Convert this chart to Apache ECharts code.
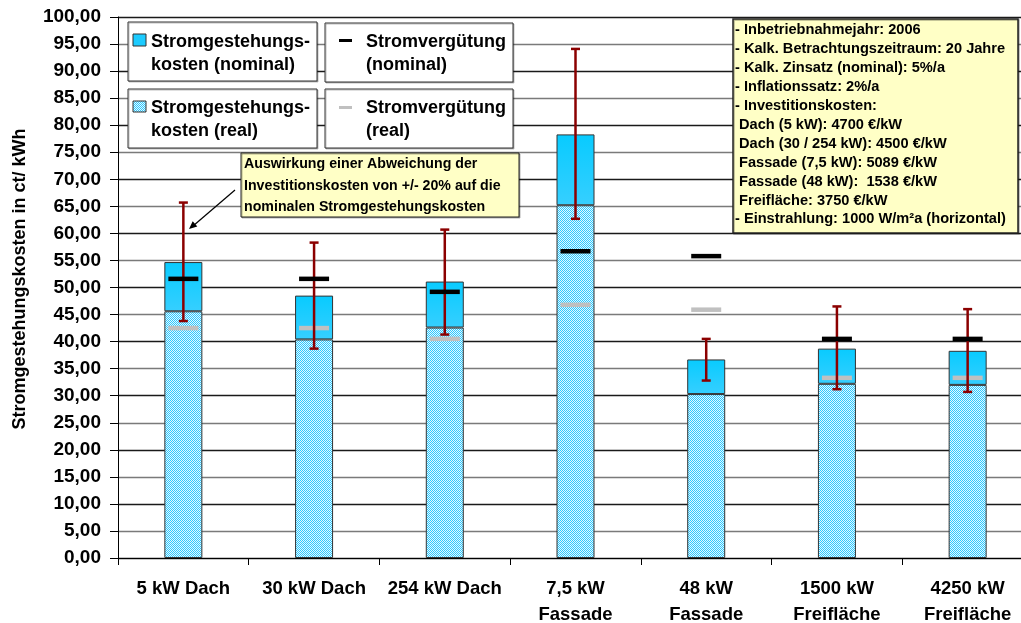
<!DOCTYPE html>
<html><head><meta charset="utf-8">
<script src="https://cdn.jsdelivr.net/npm/echarts@6/dist/echarts.min.js"></script>
<style>html,body{margin:0;padding:0;background:#fff}#c{width:1021px;height:623px}</style>
</head><body><div id="c"></div>
<script>
const categories = ['5 kW Dach', '30 kW Dach', '254 kW Dach', '7,5 kW\nFassade', '48 kW\nFassade', '1500 kW\nFreifläche', '4250 kW\nFreifläche'];
const nominalCost = [54.7, 48.5, 51.1, 78.3, 36.7, 38.7, 38.3];
const realCost = [45.6, 40.4, 42.6, 65.2, 30.3, 32.2, 32.0];
const tariffNominal = [51.6, 51.6, 49.2, 56.7, 55.8, 40.5, 40.5];
const tariffReal = [42.5, 42.5, 40.5, 46.8, 45.9, 33.3, 33.3];
const errHigh = [65.7, 58.3, 60.7, 94.1, 40.5, 46.5, 46.0];
const errLow = [43.8, 38.7, 41.3, 62.7, 32.8, 31.2, 30.7];
const yMin = 0, yMax = 100, yStep = 5;
const infoLines = [
  '- Inbetriebnahmejahr: 2006',
  '- Kalk. Betrachtungszeitraum: 20 Jahre',
  '- Kalk. Zinsatz (nominal): 5%/a',
  '- Inflationssatz: 2%/a',
  '- Investitionskosten:',
  ' Dach (5 kW): 4700 €/kW',
  ' Dach (30 / 254 kW): 4500 €/kW',
  ' Fassade (7,5 kW): 5089 €/kW',
  ' Fassade (48 kW):  1538 €/kW',
  ' Freifläche: 3750 €/kW',
  '- Einstrahlung: 1000 W/m²a (horizontal)'
];
const noteLines = ['Auswirkung einer Abweichung der', 'Investitionskosten von +/- 20% auf die', 'nominalen Stromgestehungskosten'];

const FF = '"Liberation Sans", Arial, sans-serif';

// dotted pattern for "real"
const pc = document.createElement('canvas');
pc.width = 2; pc.height = 2;
const pctx = pc.getContext('2d');
pctx.fillStyle = '#e2f8ff'; pctx.fillRect(0, 0, 2, 2);
pctx.fillStyle = '#2ec8ff'; pctx.fillRect(0, 0, 1, 1); pctx.fillRect(1, 1, 1, 1);
const realFill = { image: pc, repeat: 'repeat' };
const nomFill = new echarts.graphic.LinearGradient(0, 0, 0, 1, [{ offset: 0, color: '#08cbff' }, { offset: 1, color: '#36cfff' }]);

const diff = nominalCost.map((v, i) => +(v - realCost[i]).toFixed(2));
const errData = categories.map((c, i) => [i, errHigh[i], errLow[i]]);

const chart = echarts.init(document.getElementById('c'), null, { renderer: 'canvas' });

function legendBox(x, y, w, h) {
  return { type: 'rect', shape: { x: x, y: y, width: w, height: h }, style: { fill: '#fff', stroke: '#333', lineWidth: 1, shadowColor: 'rgba(0,0,0,0.25)', shadowOffsetX: 1, shadowOffsetY: 1 }, z: 100 };
}
function txt(x, y, text, size, lh) {
  return { type: 'text', x: x, y: y, style: { text: text, font: 'bold ' + size + 'px ' + FF, fill: '#000', lineHeight: lh, verticalAlign: 'top' }, z: 101 };
}

const graphics = [
  legendBox(128, 22, 189, 59), legendBox(325, 23, 188, 59),
  legendBox(128, 89, 189, 59), legendBox(325, 89, 188, 59),
  { type: 'rect', shape: { x: 133, y: 34, width: 13, height: 12 }, style: { fill: '#1ccbff', stroke: '#333', lineWidth: 1 }, z: 101 },
  { type: 'rect', shape: { x: 133, y: 101, width: 13, height: 11 }, style: { fill: realFill, stroke: '#333', lineWidth: 1 }, z: 101 },
  { type: 'rect', shape: { x: 339, y: 39, width: 13, height: 3 }, style: { fill: '#000' }, z: 101 },
  { type: 'rect', shape: { x: 339, y: 106, width: 13, height: 3 }, style: { fill: '#c0c0c0' }, z: 101 },
  txt(151, 30.5, 'Stromgestehungs-\nkosten (nominal)', 18, 23),
  txt(366, 30.5, 'Stromvergütung\n(nominal)', 18, 23),
  txt(151, 96.5, 'Stromgestehungs-\nkosten (real)', 18, 23),
  txt(366, 96.5, 'Stromvergütung\n(real)', 18, 23),
  // info box
  { type: 'rect', shape: { x: 733, y: 19, width: 285, height: 214 }, style: { fill: '#ffffc6', stroke: '#222', lineWidth: 1.5, shadowColor: 'rgba(0,0,0,0.3)', shadowOffsetX: 1, shadowOffsetY: 1 }, z: 100 },
  txt(735, 21, infoLines.join('\n'), 14.6, 18.9),
  // annotation
  { type: 'rect', shape: { x: 241, y: 153, width: 278, height: 64 }, style: { fill: '#ffffc6', stroke: '#222', lineWidth: 1, shadowColor: 'rgba(0,0,0,0.3)', shadowOffsetX: 1, shadowOffsetY: 1 }, z: 100 },
  txt(244, 153.5, noteLines.join('\n'), 14.2, 21.5),
  { type: 'line', shape: { x1: 235, y1: 190, x2: 193, y2: 226 }, style: { stroke: '#000', lineWidth: 1.2 }, z: 100 },
  { type: 'polygon', shape: { points: [[189, 229], [197.3, 226.4], [192.7, 221.2]] }, style: { fill: '#000' }, z: 100 },
  // y axis title
  { type: 'text', x: 20, y: 279, rotation: Math.PI / 2, style: { text: 'Stromgestehungskosten in ct/ kWh', font: 'bold 18px ' + FF, fill: '#000', align: 'center', verticalAlign: 'middle' }, z: 101 }
];

chart.setOption({
  animation: false,
  grid: { left: 118, width: 915, top: 17, height: 541, containLabel: false, outerBoundsMode: 'none' },
  xAxis: {
    type: 'category', data: categories,
    axisLine: { lineStyle: { color: '#000', width: 1 } },
    axisTick: { show: true, length: 7, lineStyle: { color: '#000' } },
    axisLabel: { color: '#000', fontFamily: FF, fontWeight: 'bold', fontSize: 18.5, lineHeight: 26, margin: 18, interval: 0 },
    splitLine: { show: false }
  },
  yAxis: {
    type: 'value', min: yMin, max: yMax, interval: yStep,
    axisLine: { show: true, lineStyle: { color: '#000', width: 1 } },
    axisTick: { show: true, length: 8, lineStyle: { color: '#000' } },
    axisLabel: { color: '#000', fontFamily: FF, fontWeight: 'bold', fontSize: 19, margin: 17, formatter: v => v.toFixed(2).replace('.', ',') },
    splitLine: { show: true, lineStyle: { color: ['#1a1a1a', '#7a7a7a'], width: 1.4 } }
  },
  series: [
    { type: 'bar', name: 'real', stack: 's', data: realCost, barWidth: 38, itemStyle: { color: realFill, borderColor: '#333', borderWidth: 1 }, z: 2 },
    { type: 'bar', name: 'nominal', stack: 's', data: diff, barWidth: 38, itemStyle: { color: nomFill, borderColor: '#333', borderWidth: 1 }, z: 2 },
    { type: 'scatter', name: 'tarifReal', data: tariffReal, symbol: 'rect', symbolSize: [30, 4.5], itemStyle: { color: '#c0c0c0', opacity: 1 }, z: 3 },
    {
      type: 'custom', name: 'err', data: errData, encode: { x: 0, y: [1, 2] }, z: 4,
      renderItem: function (params, api) {
        const hi = api.coord([api.value(0), api.value(1)]);
        const lo = api.coord([api.value(0), api.value(2)]);
        const st = { stroke: '#8b0000', lineWidth: 2.5 };
        return { type: 'group', children: [
          { type: 'line', shape: { x1: hi[0], y1: hi[1], x2: lo[0], y2: lo[1] }, style: st },
          { type: 'line', shape: { x1: hi[0] - 4.5, y1: hi[1], x2: hi[0] + 4.5, y2: hi[1] }, style: st },
          { type: 'line', shape: { x1: lo[0] - 4.5, y1: lo[1], x2: lo[0] + 4.5, y2: lo[1] }, style: st }
        ] };
      }
    },
    { type: 'scatter', name: 'tarifNom', data: tariffNominal, symbol: 'rect', symbolSize: [30, 4.5], itemStyle: { color: '#000', opacity: 1 }, z: 5 }
  ],
  graphic: graphics
});
</script></body></html>
